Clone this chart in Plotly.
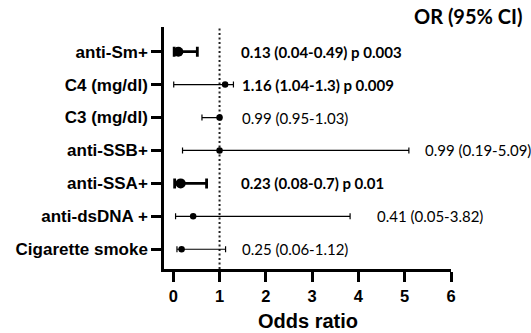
import plotly.graph_objects as go

# Data (top to bottom as shown)
labels = ["anti-Sm+", "C4 (mg/dl)", "C3 (mg/dl)", "anti-SSB+", "anti-SSA+", "anti-dsDNA +", "Cigarette smoke"]
odds = [0.11, 1.12, 1.0, 1.0, 0.16, 0.43, 0.18]
ci_low = [0.02, 0.01, 0.62, 0.20, 0.03, 0.05, 0.08]
ci_high = [0.52, 1.30, 1.03, 5.09, 0.72, 3.82, 1.13]
bold_text = [True, True, False, False, True, False, False]
thick_bar = [True, False, False, False, True, False, False]
texts = ["0.13 (0.04-0.49) p 0.003", "1.16 (1.04-1.3) p 0.009", "0.99 (0.95-1.03)",
         "0.99 (0.19-5.09)", "0.23 (0.08-0.7) p 0.01", "0.41 (0.05-3.82)", "0.25 (0.06-1.12)"]
text_x = [1.43, 1.45, 1.45, 5.40, 1.43, 4.36, 1.45]
x_ticks = [0, 1, 2, 3, 4, 5, 6]

fig = go.Figure()
for i, lab in enumerate(labels):
    thick = thick_bar[i]
    fig.add_trace(go.Scatter(
        x=[odds[i]], y=[lab], mode="markers",
        marker=dict(color="black", size=10 if thick else 6.5, symbol="circle"),
        error_x=dict(type="data", symmetric=False,
                     array=[ci_high[i] - odds[i]], arrayminus=[odds[i] - ci_low[i]],
                     color="black", thickness=2.8 if thick else 1.2, width=5 if thick else 3),
        showlegend=False, hoverinfo="skip"))

annotations = []
for i, lab in enumerate(labels):
    annotations.append(dict(
        x=text_x[i], y=lab, xref="x", yref="y", text=texts[i], showarrow=False,
        xanchor="left", yanchor="middle",
        font=dict(family="Lato", size=15, color="black",
                  weight="bold" if bold_text[i] else "normal")))
annotations.append(dict(x=1.254, y=1.045, xref="paper", yref="paper", text="<b>OR (95% CI)</b>",
                        showarrow=False, xanchor="right", yanchor="middle",
                        font=dict(family="Lato", size=20, color="black")))
annotations.append(dict(x=0.5, y=-0.215, xref="paper", yref="paper", text="<b>Odds ratio</b>",
                        showarrow=False, xanchor="center", yanchor="middle",
                        font=dict(family="Liberation Sans", size=20, color="black")))

fig.add_shape(type="line", x0=1, x1=1, y0=0, y1=1, xref="x", yref="paper",
              line=dict(color="#222", width=2, dash="2px,2.5px"), layer="below")

fig.update_layout(
    width=531, height=333,
    margin=dict(l=164, r=80, t=27, b=64),
    paper_bgcolor="white", plot_bgcolor="white",
    annotations=annotations,
    xaxis=dict(range=[-0.2, 6], tickvals=x_ticks, showline=True, linewidth=2.5, linecolor="black",
               ticks="outside", ticklen=10, tickwidth=2.5, tickcolor="black",
               showgrid=False, zeroline=False,
               tickfont=dict(family="Liberation Sans", size=16.5, color="black", weight="bold")),
    yaxis=dict(type="category", categoryorder="array", categoryarray=labels[::-1],
               range=[-0.6, 6.75], showline=True, linewidth=2.5, linecolor="black",
               ticks="outside", ticklen=10, tickwidth=2.5, tickcolor="black",
               showgrid=False, zeroline=False,
               tickfont=dict(family="Liberation Sans", size=17, color="black", weight="bold")),
)

fig.write_html("out.html", config={"displayModeBar": False},
               post_script="document.body.style.margin='0';document.body.style.overflow='hidden';")
